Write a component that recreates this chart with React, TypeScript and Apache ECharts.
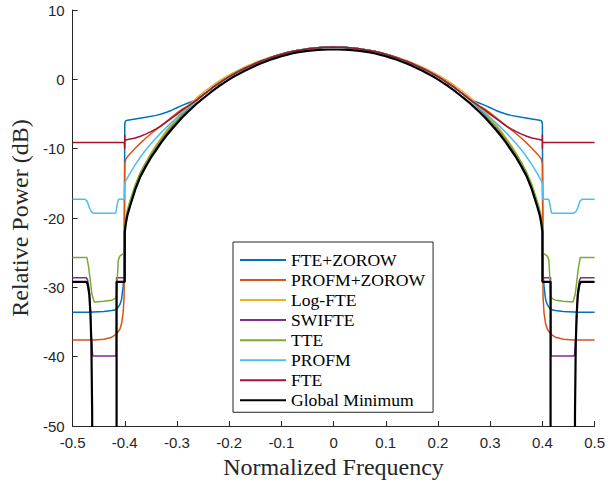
import React, { useEffect, useRef } from "react";
import * as echarts from "echarts";

type P = [number, number];

// Half spectrum (f <= 0); the chart is symmetric about f = 0.
const colorLobe: P[] = [
  [-0.26, -2.85], [-0.25, -2.25], [-0.24, -1.68], [-0.23, -1.1], [-0.22, -0.58], [-0.21, -0.08],
  [-0.2, 0.4], [-0.19, 0.83], [-0.18, 1.23], [-0.17, 1.6], [-0.16, 1.95], [-0.15, 2.28],
  [-0.14, 2.6], [-0.13, 2.88], [-0.12, 3.15], [-0.11, 3.4], [-0.1, 3.62], [-0.09, 3.82],
  [-0.08, 4.0], [-0.07, 4.15], [-0.06, 4.28], [-0.05, 4.4], [-0.04, 4.49], [-0.03, 4.56],
  [-0.02, 4.61], [-0.01, 4.64], [0, 4.65],
];

const fteZorowHalf: P[] = [
  [-0.5, -33.6], [-0.47, -33.6], [-0.44, -33.5], [-0.425, -33.35], [-0.4157, -33.2],
  [-0.4095, -32.5], [-0.4063, -31.8], [-0.4032, -29.9], [-0.4013, -28.0], [-0.4, -6.4],
  [-0.3985, -6.0], [-0.397, -5.95], [-0.392, -5.87], [-0.38, -5.72], [-0.36, -5.48],
  [-0.34, -5.2], [-0.33, -5.0], [-0.32, -4.75], [-0.31, -4.45], [-0.3, -4.1],
  [-0.29, -3.75], [-0.28, -3.45], [-0.27, -3.17],
];

const profmZorowHalf: P[] = [
  [-0.5, -37.6], [-0.46, -37.6], [-0.44, -37.5], [-0.425, -37.2], [-0.4157, -36.7],
  [-0.4095, -36.05], [-0.4063, -35.3], [-0.4032, -33.75], [-0.4013, -31.35], [-0.4, -12.2],
  [-0.398, -11.5], [-0.392, -10.9], [-0.38, -9.95], [-0.37, -9.2], [-0.36, -8.5],
  [-0.35, -7.85], [-0.34, -7.25], [-0.33, -6.65], [-0.32, -6.05], [-0.31, -5.45],
  [-0.3, -4.85], [-0.29, -4.3], [-0.28, -3.85], [-0.27, -3.35],
];

const logFteHalf: P[] = [
  [-0.4, -21.7], [-0.398, -20.5], [-0.395, -19.3], [-0.39, -18.0], [-0.38, -15.6],
  [-0.37, -13.6], [-0.36, -12.1], [-0.35, -10.7], [-0.34, -9.5], [-0.33, -8.4],
  [-0.32, -7.35], [-0.31, -6.4], [-0.3, -5.5], [-0.29, -4.65], [-0.28, -3.9],
  [-0.27, -3.2], [-0.26, -2.5], [-0.25, -1.9], [-0.24, -1.33], [-0.23, -0.78],
  [-0.22, -0.27], [-0.21, 0.2], [-0.2, 0.65], [-0.19, 1.05], [-0.18, 1.43],
  [-0.17, 1.78], [-0.16, 2.1], [-0.15, 2.42], [-0.14, 2.72], [-0.13, 2.98],
  [-0.12, 3.23], [-0.11, 3.46], [-0.1, 3.67], [-0.09, 3.86], [-0.08, 4.03],
  [-0.07, 4.17], [-0.06, 4.3], [-0.05, 4.41], [-0.04, 4.5], [-0.03, 4.56],
  [-0.02, 4.61], [-0.01, 4.64], [0, 4.65],
];

const swifteHalf: P[] = [
  [-0.5, -28.6], [-0.4735, -28.6], [-0.471, -29.0], [-0.468, -30.5], [-0.466, -33.0],
  [-0.464, -37.0], [-0.462, -39.5], [-0.461, -39.9], [-0.4165, -39.9], [-0.4157, -28.6],
  [-0.4005, -28.6], [-0.4, -21.8], [-0.398, -20.6], [-0.395, -19.4], [-0.39, -18.0],
  [-0.38, -15.6], [-0.37, -13.7], [-0.36, -12.3], [-0.35, -11.0], [-0.34, -9.9],
  [-0.33, -8.8], [-0.32, -7.8], [-0.31, -6.9], [-0.3, -6.0], [-0.29, -5.15],
  [-0.28, -4.35], [-0.27, -3.6],
];

const tteHalf: P[] = [
  [-0.5, -25.7], [-0.4725, -25.7], [-0.4694, -27.0], [-0.4663, -28.9], [-0.4631, -30.9],
  [-0.4599, -31.8], [-0.4587, -32.1], [-0.44, -32.0], [-0.425, -31.85], [-0.418, -31.6],
  [-0.4157, -30.9], [-0.4144, -28.9], [-0.4125, -26.1], [-0.4095, -25.5], [-0.4019, -25.1],
  [-0.4005, -24.8], [-0.4, -21.5], [-0.398, -20.0], [-0.395, -18.8], [-0.39, -17.5],
  [-0.38, -15.2], [-0.37, -13.4], [-0.36, -12.0], [-0.35, -10.75], [-0.34, -9.65],
  [-0.33, -8.6], [-0.32, -7.6], [-0.31, -6.7], [-0.3, -5.85], [-0.29, -5.0],
  [-0.28, -4.25], [-0.27, -3.55],
];

const profmHalf: P[] = [
  [-0.5, -17.3], [-0.476, -17.3], [-0.472, -17.6], [-0.468, -18.5], [-0.464, -19.1],
  [-0.46, -19.3], [-0.418, -19.3], [-0.4165, -19.0], [-0.414, -17.8], [-0.412, -17.3],
  [-0.4005, -17.3], [-0.4, -15.0], [-0.398, -14.6], [-0.392, -13.8], [-0.38, -12.3],
  [-0.37, -11.2], [-0.36, -10.2], [-0.35, -9.3], [-0.34, -8.45], [-0.33, -7.65],
  [-0.32, -6.9], [-0.31, -6.2], [-0.3, -5.5], [-0.29, -4.85], [-0.28, -4.2], [-0.27, -3.55],
];

const fteHalf: P[] = [
  [-0.5, -9.1], [-0.401, -9.1], [-0.4, -9.1], [-0.4, -10.0], [-0.4, -8.0], [-0.4, -8.8],
  [-0.398, -8.75], [-0.39, -8.62], [-0.38, -8.45], [-0.37, -8.2], [-0.36, -7.9],
  [-0.35, -7.55], [-0.34, -7.15], [-0.33, -6.7], [-0.32, -6.15], [-0.31, -5.6],
  [-0.3, -5.05], [-0.29, -4.45], [-0.28, -3.95], [-0.27, -3.4],
];

const globalMinHalf: P[] = [
  [-0.5, -29.2], [-0.4735, -29.2], [-0.471, -29.6], [-0.468, -31.0], [-0.466, -33.5],
  [-0.464, -38], [-0.4625, -48], [-0.462, -60], [-0.461, -90], [-0.4157, -90],
  [-0.4157, -29.2], [-0.4, -29.2], [-0.4, -22.0], [-0.398, -20.8], [-0.395, -19.6],
  [-0.39, -18.3], [-0.38, -15.9], [-0.37, -14.0], [-0.36, -12.6], [-0.35, -11.3],
  [-0.34, -10.2], [-0.33, -9.1], [-0.32, -8.1], [-0.31, -7.2], [-0.3, -6.35],
  [-0.29, -5.5], [-0.28, -4.75], [-0.27, -4.05], [-0.26, -3.35], [-0.25, -2.75],
  [-0.24, -2.15], [-0.23, -1.55], [-0.22, -1.0], [-0.21, -0.5], [-0.2, 0.0],
  [-0.19, 0.45], [-0.18, 0.85], [-0.17, 1.25], [-0.16, 1.6], [-0.15, 1.95],
  [-0.14, 2.28], [-0.13, 2.57], [-0.12, 2.85], [-0.11, 3.1], [-0.1, 3.33],
  [-0.09, 3.53], [-0.08, 3.72], [-0.07, 3.88], [-0.06, 4.0], [-0.05, 4.1],
  [-0.04, 4.18], [-0.03, 4.24], [-0.02, 4.28], [-0.01, 4.3], [0, 4.3],
];

const seriesNames = [
  "FTE+ZOROW", "PROFM+ZOROW", "Log-FTE", "SWIFTE", "TTE", "PROFM", "FTE", "Global Minimum",
];
const seriesColors = [
  "#0072BD", "#D95319", "#EDB120", "#7E2F8E", "#77AC30", "#4DBEEE", "#A2142F", "#000000",
];
const halves: P[][] = [
  [...fteZorowHalf, ...colorLobe],
  [...profmZorowHalf, ...colorLobe],
  logFteHalf,
  [...swifteHalf, ...colorLobe],
  [...tteHalf, ...colorLobe],
  [...profmHalf, ...colorLobe],
  [...fteHalf, ...colorLobe],
  globalMinHalf,
];

function mirror(half: P[]): P[] {
  const right = half
    .filter((p) => p[0] < 0)
    .slice()
    .reverse()
    .map(([f, v]) => [-f, v] as P);
  return [...half, ...right];
}

export default function App() {
  const ref = useRef<HTMLDivElement>(null);
  useEffect(() => {
    if (!ref.current) return;
    const chart = echarts.init(ref.current, null, { renderer: "svg" });
    const axisColor = "#262626";
    chart.setOption({
      animation: false,
      backgroundColor: "#ffffff",
      grid: { left: 69.5, right: 10.5, top: 10, bottom: 59, containLabel: false },
      xAxis: {
        type: "value",
        min: -0.5,
        max: 0.5,
        interval: 0.1,
        name: "Normalized Frequency",
        nameLocation: "middle",
        nameGap: 26,
        nameTextStyle: { fontFamily: "Liberation Serif", fontSize: 24, color: axisColor },
        axisLine: { onZero: false, lineStyle: { color: axisColor, width: 1 } },
        axisTick: { inside: true, length: 5, lineStyle: { color: axisColor } },
        axisLabel: {
          margin: 9,
          fontFamily: "Liberation Sans",
          fontSize: 15,
          color: axisColor,
          formatter: (v: number) => {
            const r = Math.round(v * 10) / 10;
            return r === 0 ? "0" : String(r);
          },
        },
        splitLine: { show: false },
      },
      yAxis: {
        type: "value",
        min: -50,
        max: 10,
        interval: 10,
        name: "Relative Power (dB)",
        nameLocation: "middle",
        nameGap: 36,
        nameTextStyle: { fontFamily: "Liberation Serif", fontSize: 24, color: axisColor },
        axisLine: { show: true, onZero: false, lineStyle: { color: axisColor, width: 1 } },
        axisTick: { show: true, inside: true, length: 5, lineStyle: { color: axisColor } },
        axisLabel: { margin: 8, fontFamily: "Liberation Sans", fontSize: 15, color: axisColor },
        splitLine: { show: false },
      },
      legend: {
        orient: "vertical",
        left: 233,
        top: 242,
        padding: [9, 8, 3, 7],
        icon: "rect",
        itemWidth: 46,
        itemHeight: 2,
        itemGap: 2.04,
        borderColor: "#262626",
        borderWidth: 1,
        backgroundColor: "#ffffff",
        textStyle: { fontFamily: "Liberation Serif", fontSize: 17.6, color: "#000", lineHeight: 14 },
        data: seriesNames,
      },
      series: seriesNames.map((name, i) => ({
        name,
        type: "line",
        data: mirror(halves[i]),
        showSymbol: false,
        symbol: "none",
        clip: true,
        color: seriesColors[i],
        itemStyle: { color: seriesColors[i] },
        lineStyle: { color: seriesColors[i], width: i === 7 ? 2.2 : 1.5 },
      })),
    });
    return () => chart.dispose();
  }, []);
  return (
    <div
      ref={ref}
      style={{ position: "fixed", left: 0, top: 0, width: 608, height: 485 }}
    />
  );
}
